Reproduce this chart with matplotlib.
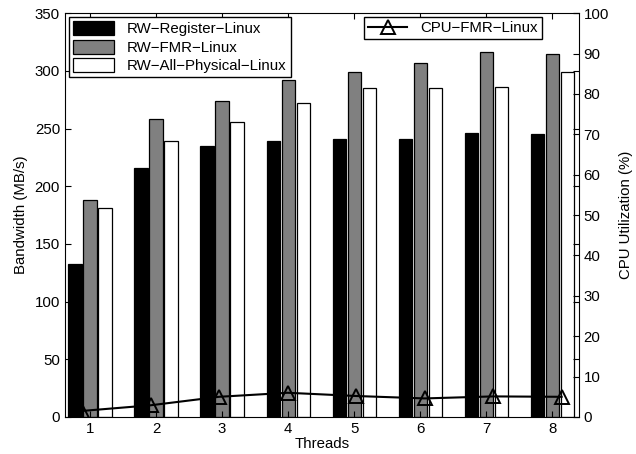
import numpy as np
import matplotlib
matplotlib.use("Agg")
import matplotlib.pyplot as plt

plt.rcParams["font.family"] = ["Liberation Sans", "DejaVu Sans"]
plt.rcParams["font.size"] = 10.8

threads = [1, 2, 3, 4, 5, 6, 7, 8]
rw_register = [133, 216, 235, 239, 241, 241, 246, 245]
rw_fmr = [188, 258, 274, 292, 299, 307, 316, 315]
rw_all_phys = [181, 239, 256, 272, 285, 285, 286, 299]
cpu_fmr = [1.5, 2.9, 5.0, 6.0, 5.2, 4.6, 5.1, 5.0]

series_labels = ["RW\u2212Register\u2212Linux", "RW\u2212FMR\u2212Linux",
                 "RW\u2212All\u2212Physical\u2212Linux"]
line_label = "CPU\u2212FMR\u2212Linux"
bar_colors = ["black", "#808080", "white"]

fig = plt.figure(figsize=(6.36, 4.54), dpi=100)
rect = [0.102, 0.0815, 0.808, 0.8895]
ax = fig.add_axes(rect)

x = np.array(threads, dtype=float)
width = 0.2
step = 0.227
for k, (vals, col, lab) in enumerate(zip([rw_register, rw_fmr, rw_all_phys],
                                         bar_colors, series_labels)):
    ax.bar(x + (k - 1) * step, vals, width, color=col, edgecolor="black",
           linewidth=0.9, label=lab)

ax.set_xlim(0.62, 8.4)
ax.set_ylim(0, 350)
ax.set_xticks(threads)
ax.set_yticks(np.arange(0, 351, 50))
ax.tick_params(direction="in", length=4, top=True, right=True, width=0.8)
ax.set_xlabel("Threads", labelpad=1)
ax.set_ylabel("Bandwidth (MB/s)", labelpad=5)

leg1 = ax.legend(loc="upper left", bbox_to_anchor=(0.008, 0.99), fancybox=False,
                 edgecolor="black", framealpha=1, handlelength=2.7,
                 handleheight=1.05, labelspacing=0.22, borderpad=0.28,
                 handletextpad=0.9, borderaxespad=0)
leg1.get_frame().set_linewidth(1.0)

# line on its own axes, same box, CPU scale on the right
ax2 = fig.add_axes(rect, label="cpu")
ax2.patch.set_visible(False)
ax2.plot(threads, cpu_fmr, color="black", linewidth=1.5, marker="^",
         markersize=10, markerfacecolor="none", markeredgewidth=1.4,
         label=line_label)
ax2.set_xlim(0.75, 8.25)
ax2.set_ylim(0, 100)
ax2.set_xticks([])
ax2.yaxis.tick_right()
ax2.yaxis.set_label_position("right")
ax2.set_yticks(np.arange(0, 101, 10))
ax2.tick_params(direction="in", length=4, width=0.8)
ax2.set_ylabel("CPU Utilization (%)", labelpad=7)
for s in ax2.spines.values():
    s.set_visible(False)

leg2 = ax2.legend(loc="upper right", bbox_to_anchor=(0.928, 0.99), fancybox=False,
                  edgecolor="black", framealpha=1, handlelength=2.6,
                  borderpad=0.25, handletextpad=0.9, borderaxespad=0)
leg2.get_frame().set_linewidth(1.0)

fig.savefig("out.png", dpi=100)
